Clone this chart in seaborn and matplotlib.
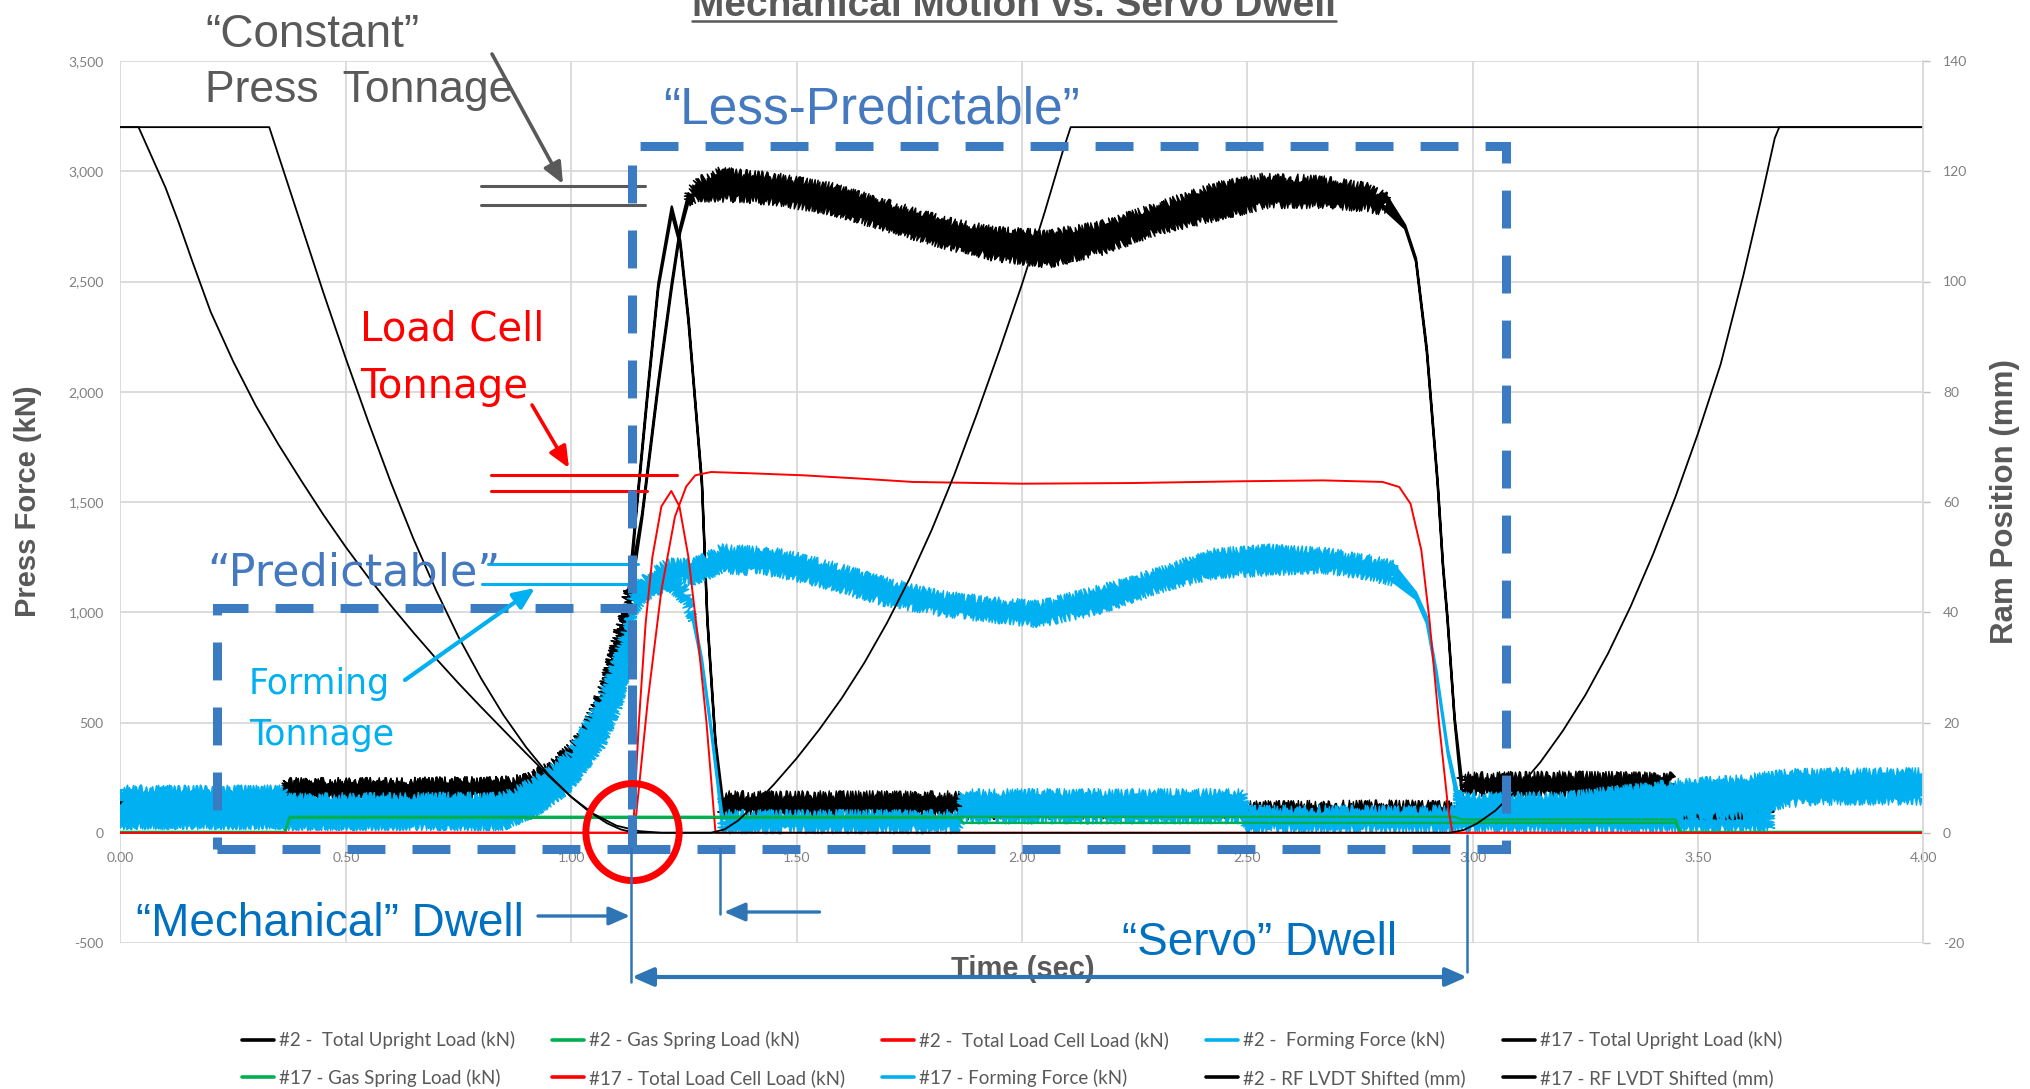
import matplotlib
matplotlib.use("Agg")
import numpy as np
import matplotlib.pyplot as plt
import seaborn as sns
from matplotlib import font_manager
from matplotlib.lines import Line2D
from matplotlib.patches import Rectangle, Ellipse, FancyArrowPatch, Polygon

# ---------------- data ----------------
# #2 = mechanical stroke, #17 = servo stroke with dwell
time_ticks = [0.0, 0.5, 1.0, 1.5, 2.0, 2.5, 3.0, 3.5, 4.0]
time_labels = ["0.00", "0.50", "1.00", "1.50", "2.00", "2.50", "3.00", "3.50", "4.00"]
force_ticks = [-500, 0, 500, 1000, 1500, 2000, 2500, 3000, 3500]
force_labels = ["-500", "0", "500", "1,000", "1,500", "2,000", "2,500", "3,000", "3,500"]
ram_ticks = [-20, 0, 20, 40, 60, 80, 100, 120, 140]
ram_labels = ["-20", "0", "20", "40", "60", "80", "100", "120", "140"]

# RF LVDT shifted ram position (mm)
ram2_t = [0.00, 0.33, 0.36, 0.40, 0.45, 0.50, 0.55, 0.60, 0.65, 0.70, 0.75, 0.80, 0.85,
          0.90, 0.95, 1.00, 1.05, 1.10, 1.15, 1.20, 1.31, 1.34, 1.37, 1.40, 1.45, 1.50,
          1.55, 1.60, 1.65, 1.70, 1.75, 1.80, 1.85, 1.90, 1.95, 2.00, 2.05, 2.09, 2.108,
          4.00]
ram2_mm = [128, 128, 120.5, 110.5, 98, 86, 74.5, 63.5, 53.3, 44, 35.5, 28, 21.3,
           15.5, 10.5, 6.5, 3.4, 1.3, 0.3, 0, 0, 0.6, 2.2, 4.5, 8.8, 13.5,
           18.7, 24.4, 30.8, 38, 46, 55, 65, 76, 87.5, 99.5, 112.5, 123.5, 128,
           128]
ram17_t = [0.00, 0.04, 0.07, 0.10, 0.13, 0.16, 0.20, 0.25, 0.30, 0.35, 0.40, 0.45, 0.50,
           0.55, 0.60, 0.65, 0.70, 0.75, 0.80, 0.85, 0.90, 0.95, 1.00, 1.04, 1.08, 1.11,
           1.14, 2.95, 2.98, 3.01, 3.05, 3.10, 3.15, 3.20, 3.25, 3.30, 3.35, 3.40, 3.45,
           3.50, 3.55, 3.60, 3.64, 3.67, 3.68, 4.00]
ram17_mm = [128, 128, 122.5, 117, 110.5, 103.5, 94.5, 85.5, 77.5, 70.5, 64, 57.7, 51.8,
            46.3, 41.2, 36.3, 31.6, 27.1, 22.8, 18.6, 14.4, 10.3, 6.5, 3.8, 1.7, 0.6,
            0, 0, 0.5, 1.7, 4, 8, 12.8, 18.5, 25, 32.5, 41, 50.5, 61,
            72.5, 85, 101, 115, 126, 128, 128]

# Total load cell load (kN)
cell2_t = [0.00, 1.137, 1.15, 1.165, 1.18, 1.20, 1.222, 1.24, 1.26, 1.28, 1.30, 1.32, 4.00]
cell2_kn = [0, 0, 500, 950, 1250, 1480, 1550, 1480, 1250, 900, 500, 0, 0]
cell17_t = [0.00, 1.14, 1.17, 1.20, 1.23, 1.255, 1.275, 1.31, 1.40, 1.515, 1.65, 1.757, 2.00,
            2.243, 2.485, 2.667, 2.80, 2.837, 2.862, 2.886, 2.904, 2.925, 2.945, 2.955, 4.00]
cell17_kn = [0, 0, 603, 1100, 1433, 1570, 1621, 1636, 1630, 1621, 1605, 1591, 1583,
             1586, 1594, 1598, 1591, 1568, 1492, 1281, 964, 500, 120, 0, 0]

# Gas spring load (kN)
gas2_t = [0.00, 0.365, 0.375, 1.86, 1.87, 3.45, 3.46, 4.00]
gas2_kn = [3, 3, 68, 68, 45, 45, 3, 3]
gas17_t = [0.00, 0.365, 0.375, 2.96, 2.975, 3.45, 3.46, 4.00]
gas17_kn = [3, 3, 72, 72, 60, 60, 3, 3]

# Total upright load (kN): noisy trace, stored as lower / upper edge of its band
up2_t = [0.00, 0.36, 0.37, 0.60, 0.85, 0.90, 0.95, 1.00, 1.03, 1.07, 1.10, 1.127, 1.143,
         1.171, 1.193, 1.223, 1.242, 1.26, 1.275, 1.29, 1.302, 1.32, 1.335, 1.60, 1.86,
         1.87, 2.50, 3.00, 3.66]
up2_lo = [100, 100, 165, 165, 170, 200, 250, 320, 400, 560, 780, 1000, 1415,
          2015, 2465, 2805, 2660, 2315, 1945, 1570, 955, 400, 90, 90, 90,
          80, 85, 85, 85]
up2_hi = [175, 175, 230, 230, 235, 250, 300, 390, 470, 660, 880, 1100, 1440,
          2040, 2490, 2840, 2685, 2340, 1965, 1595, 975, 420, 170, 170, 170,
          125, 125, 130, 130]
up17_t = [0.00, 0.36, 0.37, 0.60, 0.85, 0.90, 0.95, 1.00, 1.03, 1.07, 1.10, 1.127, 1.157,
          1.193, 1.223, 1.2415, 1.26, 1.282, 1.33, 1.45, 1.575, 1.70, 1.82, 1.94, 2.06,
          2.18, 2.30, 2.425, 2.545, 2.665, 2.765, 2.81, 2.85, 2.874, 2.898, 2.91, 2.922,
          2.934, 2.944, 2.96, 2.975, 3.20, 3.44, 3.45, 3.60]
up17_lo = [100, 100, 165, 165, 170, 200, 250, 320, 400, 560, 780, 1000, 1420,
           2020, 2470, 2720, 2860, 2880, 2880, 2865, 2820, 2745, 2670, 2610, 2580,
           2640, 2730, 2790, 2850, 2850, 2835, 2815, 2740, 2590, 2180, 1880, 1580,
           1200, 960, 500, 185, 180, 175, 80, 80]
up17_hi = [175, 175, 230, 230, 235, 250, 300, 390, 470, 660, 880, 1100, 1445,
           2045, 2495, 2745, 2900, 2955, 3000, 2975, 2930, 2855, 2780, 2730, 2715,
           2760, 2840, 2930, 2975, 2960, 2930, 2885, 2755, 2605, 2200, 1900, 1600,
           1220, 980, 520, 255, 260, 255, 150, 150]

# Forming force (kN): noisy trace, lower / upper edge
form2_t = [0.00, 0.36, 0.37, 0.85, 0.92, 0.994, 1.068, 1.105, 1.127, 1.137, 1.17, 1.223,
           1.25, 1.27, 1.29, 1.31, 1.325, 1.335, 1.86, 1.87, 2.49, 2.50, 2.95, 3.66]
form2_lo = [35, 35, 30, 30, 90, 200, 400, 575, 770, 1000, 1075, 1110,
            1050, 960, 760, 460, 210, 15, 15, 60, 60, 20, 20, 20]
form2_hi = [195, 195, 160, 165, 240, 350, 615, 815, 970, 1100, 1160, 1175,
            1115, 1005, 790, 490, 240, 85, 85, 180, 180, 105, 105, 105]
form17_t = [0.00, 0.36, 0.37, 0.85, 0.92, 0.994, 1.068, 1.105, 1.127, 1.137, 1.17, 1.212,
            1.272, 1.333, 1.454, 1.575, 1.697, 1.818, 1.939, 2.03, 2.06, 2.182, 2.303,
            2.425, 2.546, 2.667, 2.765, 2.825, 2.874, 2.898, 2.92, 2.945, 2.965, 2.975,
            3.20, 3.45, 3.60, 3.70, 3.80, 4.00]
form17_lo = [35, 35, 30, 30, 90, 200, 400, 575, 770, 1000, 1080, 1150,
             1140, 1195, 1180, 1120, 1045, 1000, 970, 950, 960, 1015, 1105,
             1170, 1185, 1195, 1165, 1135, 1060, 950, 700, 350, 150, 45,
             45, 65, 85, 135, 145, 145]
form17_hi = [195, 195, 160, 165, 240, 350, 615, 815, 970, 1100, 1165, 1225,
             1230, 1290, 1275, 1215, 1140, 1080, 1050, 1035, 1045, 1110, 1185,
             1270, 1290, 1275, 1245, 1215, 1090, 980, 730, 380, 200, 165,
             165, 225, 245, 270, 275, 275]

legend_labels = ["#2 -  Total Upright Load (kN)", "#2 - Gas Spring Load (kN)",
                 "#2 -  Total Load Cell Load (kN)", "#2 -  Forming Force (kN)",
                 "#17 - Total Upright Load (kN)", "#17 - Gas Spring Load (kN)",
                 "#17 - Total Load Cell Load (kN)", "#17 - Forming Force (kN)",
                 "#2 - RF LVDT Shifted (mm)", "#17 - RF LVDT Shifted (mm)"]

# reference levels marked beside the peaks (kN)
press_levels = [2935, 2847]
cell_levels = [1623, 1551]
form_levels = [1218, 1128]

# ---------------- style ----------------
sns.set_theme(style="white")


def pick(*names):
    for n in names:
        try:
            font_manager.findfont(font_manager.FontProperties(family=n), fallback_to_default=False)
            return n
        except Exception:
            pass
    return "DejaVu Sans"


ARIAL = pick("Liberation Sans", "Arimo")
WIDE = "DejaVu Sans"
SMALL = pick("Lato", "Liberation Sans")
plt.rcParams["font.family"] = [ARIAL, "DejaVu Sans"]
plt.rcParams["axes.unicode_minus"] = False

BLACK, GREEN, RED, CYAN = "#000000", "#00B050", "#FF0000", "#00B0F0"
DARK, TICK, GRID = "#595959", "#808080", "#D9D9D9"
BOX, DWELL, ARROWB, LBLUE = "#3B7BC2", "#0070C0", "#2E75B6", "#4479C0"

W, H = 2031, 1089
fig = plt.figure(figsize=(W / 100, H / 100), dpi=100)
fig.patch.set_facecolor("white")


def fx(x):
    return x / W


def fy(y):
    return 1 - y / H


ax = fig.add_axes([fx(120.5), fy(943), (1923.5 - 120.5) / W, (943 - 61) / H])
ax2 = ax.twinx()
ax.set_xlim(0, 4)
ax.set_ylim(-500, 3500)
ax2.set_ylim(-20, 140)


def trace(t, lo, hi, color, jitter=4.5):
    """Draw a noisy signal as its band; wide stretches get a ragged outline,
    narrow (fast-moving) stretches stay a clean stroke."""
    wide = [h - l >= 40 for l, h in zip(lo, hi)]
    n = len(t)
    i = 0
    while i < n - 1:
        kind = wide[i] and wide[i + 1]
        j = i + 1
        while j < n - 1 and (wide[j] and wide[j + 1]) == kind:
            j += 1
        xs = list(t[i:j + 1]) + list(t[i:j + 1])[::-1]
        ys = list(hi[i:j + 1]) + list(lo[i:j + 1])[::-1]
        poly = Polygon(np.column_stack([xs, ys]), closed=True, facecolor=color,
                       edgecolor=color, lw=1.0 if kind else 1.7, joinstyle="round")
        if kind:
            poly.set_sketch_params(scale=jitter, length=2.0, randomness=3.0)
        ax.add_patch(poly)
        i = j


def line(axis, t, v, color, lw=1.3):
    sns.lineplot(x=t, y=v, ax=axis, color=color, linewidth=lw, legend=False)


# series in legend order; later ones sit on top
trace(up2_t, up2_lo, up2_hi, BLACK)
line(ax, gas2_t, gas2_kn, GREEN, 1.8)
line(ax, cell2_t, cell2_kn, RED, 1.4)
trace(form2_t, form2_lo, form2_hi, CYAN)
trace(up17_t, up17_lo, up17_hi, BLACK)
line(ax, gas17_t, gas17_kn, GREEN, 1.8)
line(ax, cell17_t, cell17_kn, RED, 1.4)
trace(form17_t, form17_lo, form17_hi, CYAN)
line(ax2, ram2_t, ram2_mm, BLACK, 1.3)
line(ax2, ram17_t, ram17_mm, BLACK, 1.3)

# ---------------- axes ----------------
ax.set_xticks(time_ticks)
ax.set_xticklabels(time_labels)
ax.set_yticks(force_ticks)
ax.set_yticklabels(force_labels)
ax2.set_yticks(ram_ticks)
ax2.set_yticklabels(ram_labels)
ax.grid(True, color=GRID, lw=1.3)
ax.set_axisbelow(True)
for s in ax.spines.values():
    s.set_visible(False)
ax.spines["bottom"].set_position(("data", 0))
for s in ["left", "top", "bottom"]:
    ax2.spines[s].set_visible(False)
ax2.spines["right"].set_color(GRID)
ax2.spines["right"].set_linewidth(1.3)
ax.tick_params(axis="x", length=0, pad=14, labelsize=10, labelcolor=TICK)
ax.tick_params(axis="y", length=0, pad=12, labelsize=10, labelcolor=TICK)
ax2.tick_params(axis="y", length=5, width=1, color="#BFBFBF", pad=9, labelsize=10, labelcolor=TICK)
for lab in ax.get_xticklabels() + ax.get_yticklabels() + ax2.get_yticklabels():
    lab.set_family(SMALL)

ax.set_xlabel("Time (sec)", fontsize=21, fontweight="bold", color=DARK, va="center")
ax.xaxis.set_label_coords((1023 - 120.5) / 1803, (943 - 969) / 882)
ax.set_ylabel("Press Force (kN)", fontsize=21, fontweight="bold", color=DARK, va="center")
ax.yaxis.set_label_coords((28 - 120.5) / 1803, (943 - 501) / 882)
ax2.set_ylabel("Ram Position (mm)", fontsize=22.5, fontweight="bold", color=DARK, va="center",
               rotation=90)
ax2.yaxis.set_label_coords((2005 - 120.5) / 1803, (943 - 502) / 882)

# ---------------- overlays in data units ----------------
dT = ax.transData
for lvl in press_levels:
    ax2.add_line(Line2D([0.80, 1.164], [lvl, lvl], transform=dT, color=DARK, lw=2.2, clip_on=False))
ax2.add_line(Line2D([0.823, 1.234], [cell_levels[0]] * 2, transform=dT, color=RED, lw=2.2, clip_on=False))
ax2.add_line(Line2D([0.823, 1.167], [cell_levels[1]] * 2, transform=dT, color=RED, lw=2.2, clip_on=False))
ax2.add_line(Line2D([0.815, 1.148], [form_levels[0]] * 2, transform=dT, color=CYAN, lw=2.2, clip_on=False))
ax2.add_line(Line2D([0.801, 1.137], [form_levels[1]] * 2, transform=dT, color=CYAN, lw=2.2, clip_on=False))

for (x0, y0, x1, y1) in [(0.2137, -74, 1.134, 1019), (1.134, -74, 3.074, 3115)]:
    ax2.add_patch(Rectangle((x0, y0), x1 - x0, y1 - y0, transform=dT, fill=False,
                            edgecolor=BOX, lw=6.5, linestyle=(0, (4.2, 3.0)), clip_on=False,
                            zorder=5))

ax2.add_patch(Ellipse((1.136, 3), 0.207, 440, transform=dT, fill=False, edgecolor=RED,
                      lw=5.0, clip_on=False, zorder=6))

# ---------------- callouts in figure pixels ----------------
FT = fig.transFigure


def arrow(p0, p1, color, lw, style="-|>", ms=16):
    a = FancyArrowPatch((fx(p0[0]), fy(p0[1])), (fx(p1[0]), fy(p1[1])), transform=FT,
                        arrowstyle=style + ",head_length=0.8,head_width=0.35",
                        mutation_scale=ms, color=color, lw=lw, shrinkA=0, shrinkB=0)
    fig.add_artist(a)


def seg(p0, p1, color, lw):
    fig.add_artist(Line2D([fx(p0[0]), fx(p1[0])], [fy(p0[1]), fy(p1[1])], transform=FT,
                          color=color, lw=lw))


arrow((492, 54), (563, 184), DARK, 2.6)
arrow((532, 405), (569, 468), RED, 2.6)
arrow((405, 680), (535, 588), CYAN, 3.0)

arrow((538, 916), (630, 916), ARROWB, 2.4)
seg((631.5, 848), (631.5, 982), ARROWB, 1.8)
seg((720.5, 848), (720.5, 914), ARROWB, 1.8)
arrow((819.5, 912), (724, 912), ARROWB, 2.4)
arrow((632, 977), (1467, 977), ARROWB, 3.0, style="<|-|>")
seg((1467.5, 835), (1467.5, 972), ARROWB, 1.8)


def note(x, y, s, size, color, family):
    fig.text(fx(x), fy(y), s, fontsize=size, color=color, family=family, ha="left", va="baseline")


note(205, 46.6, "\u201cConstant\u201d", 33, DARK, ARIAL)
note(205, 102, "Press  Tonnage", 32, DARK, ARIAL)
note(663, 123, "\u201cLess-Predictable\u201d", 37, LBLUE, ARIAL)
note(360, 340.7, "Load Cell", 29, RED, WIDE)
note(360, 397.7, "Tonnage", 29, RED, WIDE)
note(207, 585.5, "\u201cPredictable\u201d", 32, LBLUE, WIDE)
note(249, 694, "Forming", 25, CYAN, WIDE)
note(249, 744.8, "Tonnage", 25, CYAN, WIDE)
note(136, 936.5, "\u201cMechanical\u201d Dwell", 33, DWELL, ARIAL)
note(1122, 954.6, "\u201cServo\u201d Dwell", 33, DWELL, ARIAL)

title = fig.text(fx(1014), fy(15.5), "Mechanical Motion vs. Servo Dwell", fontsize=28,
                 fontweight="bold", color=DARK, ha="center", va="baseline", family=ARIAL)

# ---------------- legend ----------------
colors = [BLACK, GREEN, RED, CYAN, BLACK, GREEN, RED, CYAN, BLACK, BLACK]
handles = [Line2D([], [], color=c, lw=2.6) for c in colors]
order = [0, 5, 1, 6, 2, 7, 3, 8, 4, 9]
fig.legend([handles[i] for i in order], [legend_labels[i] for i in order], loc="center",
           bbox_to_anchor=(fx(1012), fy(1059)), ncol=5, frameon=False,
           prop={"family": SMALL, "size": 13.5}, labelcolor=DARK, handlelength=1.7,
           handletextpad=0.25, columnspacing=2.0, labelspacing=1.05)

# underline under the title
fig.canvas.draw()
bb = title.get_window_extent(fig.canvas.get_renderer())
fig.add_artist(Line2D([bb.x0 / W, bb.x1 / W], [fy(21), fy(21)], transform=FT, color=DARK, lw=1.8))

fig.savefig("out.png", dpi=100)
